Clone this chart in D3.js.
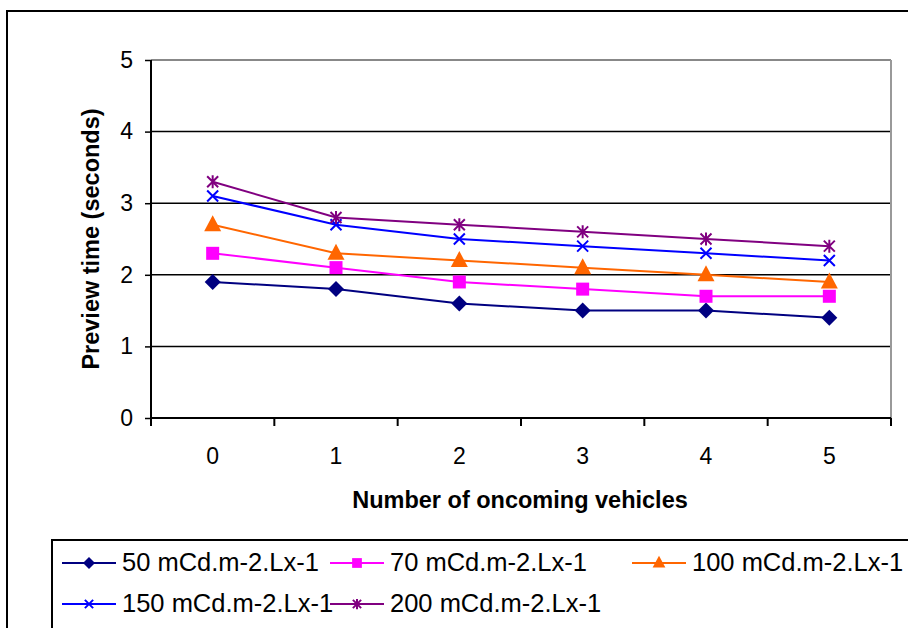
<!DOCTYPE html>
<html><head><meta charset="utf-8">
<script src="https://cdn.jsdelivr.net/npm/d3@7"></script>
<style>body{margin:0;background:#fff;}svg{display:block;font-family:"Liberation Sans",Arial,sans-serif;}</style>
</head><body>
<svg id="c" width="908" height="628"></svg>
<script>
const categories = ["0","1","2","3","4","5"];
const seriesNames = ["50 mCd.m-2.Lx-1","70 mCd.m-2.Lx-1","100 mCd.m-2.Lx-1","150 mCd.m-2.Lx-1","200 mCd.m-2.Lx-1"];
const s50  = [1.9, 1.8, 1.6, 1.5, 1.5, 1.4];
const s70  = [2.3, 2.1, 1.9, 1.8, 1.7, 1.7];
const s100 = [2.7, 2.3, 2.2, 2.1, 2.0, 1.9];
const s150 = [3.1, 2.7, 2.5, 2.4, 2.3, 2.2];
const s200 = [3.3, 2.8, 2.7, 2.6, 2.5, 2.4];
const yTicks = [0,1,2,3,4,5];
const seriesValues = [s50, s70, s100, s150, s200];
const colors = ["#000080","#FF00FF","#FF6600","#0000FF","#800080"];
const markers = ["diamond","square","triangle","x","star"];

const svg = d3.select("#c");
// outer chart border
svg.append("rect").attr("x",7).attr("y",11).attr("width",930).attr("height",640)
  .attr("fill","none").attr("stroke","#000").attr("stroke-width",2);

const L=151, R=891, T=60, B=418;
const x = d3.scaleBand().domain(categories).range([L,R]).padding(0);
const y = d3.scaleLinear().domain([0,5]).range([B,T]);

// gridlines
svg.append("g").selectAll("line").data(yTicks.filter(d=>d>0 && d<5)).join("line")
  .attr("x1",L).attr("x2",R).attr("y1",d=>y(d)).attr("y2",d=>y(d))
  .attr("stroke","#000").attr("stroke-width",1.5);
// plot border top/right gray
svg.append("line").attr("x1",L).attr("x2",R).attr("y1",y(5)).attr("y2",y(5)).attr("stroke","#888").attr("stroke-width",2);
svg.append("line").attr("x1",R).attr("x2",R).attr("y1",y(5)).attr("y2",B).attr("stroke","#999").attr("stroke-width",2);

// y axis
const yAxis = d3.axisLeft(y).tickValues(yTicks).tickSize(6).tickPadding(12).tickFormat(d3.format("d"));
const gy = svg.append("g").attr("transform",`translate(${L},0)`).call(yAxis);
gy.select(".domain").attr("stroke","#000").attr("stroke-width",2).attr("d",`M0,${B}V${T}`);
gy.selectAll(".tick line").attr("stroke","#000").attr("stroke-width",1.5);
gy.selectAll("text").attr("font-size",23).attr("fill","#000").attr("font-family","Liberation Sans, Arial, sans-serif");

// x axis
const xAxis = d3.axisBottom(x).tickSize(0).tickPadding(30);
const gx = svg.append("g").attr("transform",`translate(0,${B})`).call(xAxis);
gx.select(".domain").attr("stroke","#000").attr("stroke-width",2).attr("d",`M${L},0H${R}`);
gx.selectAll("text").attr("font-size",23).attr("fill","#000").attr("font-family","Liberation Sans, Arial, sans-serif");
// category boundary ticks
const bounds = categories.map(c=>x(c)).concat([x(categories[categories.length-1])+x.bandwidth()]);
gx.append("g").selectAll("line").data(bounds).join("line")
  .attr("x1",d=>d).attr("x2",d=>d).attr("y1",0).attr("y2",8).attr("stroke","#000").attr("stroke-width",2);

// axis titles
svg.append("text").attr("x",520).attr("y",508).attr("text-anchor","middle")
  .attr("font-size",23.5).attr("font-weight","bold").text("Number of oncoming vehicles");
svg.append("text").attr("transform",`translate(99,${(T+B)/2}) rotate(-90)`).attr("text-anchor","middle")
  .attr("font-size",23.5).attr("font-weight","bold").text("Preview time (seconds)");

function drawMarker(g, type, color, cx, cy, scale){
  const s = scale||1;
  if(type==="diamond"){
    const h=8*s;
    g.append("path").attr("d",`M${cx},${cy-h}L${cx+h},${cy}L${cx},${cy+h}L${cx-h},${cy}Z`).attr("fill",color);
  } else if(type==="square"){
    const h=6.5*s;
    g.append("rect").attr("x",cx-h).attr("y",cy-h).attr("width",2*h).attr("height",2*h).attr("fill",color);
  } else if(type==="triangle"){
    const h=8.5*s;
    g.append("path").attr("d",`M${cx},${cy-h-1}L${cx+h},${cy+h-2}L${cx-h},${cy+h-2}Z`).attr("fill",color);
  } else if(type==="x"){
    const h=5.5*s;
    g.append("path").attr("d",`M${cx-h},${cy-h}L${cx+h},${cy+h}M${cx-h},${cy+h}L${cx+h},${cy-h}`).attr("stroke",color).attr("stroke-width",2).attr("fill","none");
  } else if(type==="star"){
    const h=5.5*s;
    g.append("path").attr("d",`M${cx-h},${cy-h}L${cx+h},${cy+h}M${cx-h},${cy+h}L${cx+h},${cy-h}M${cx},${cy-h-1}L${cx},${cy+h+1}`).attr("stroke",color).attr("stroke-width",2).attr("fill","none");
  }
}

const line = d3.line().x((d,i)=>x(categories[i])+x.bandwidth()/2).y(d=>y(d));
seriesValues.forEach((vals,si)=>{
  const g = svg.append("g");
  g.append("path").datum(vals).attr("d",line).attr("fill","none").attr("stroke",colors[si]).attr("stroke-width",2);
  vals.forEach((v,i)=>drawMarker(g, markers[si], colors[si], x(categories[i])+x.bandwidth()/2, y(v), 1));
});

// legend
svg.append("rect").attr("x",52).attr("y",540).attr("width",900).attr("height",120)
  .attr("fill","#fff").attr("stroke","#000").attr("stroke-width",2);
const legendPos = [[62,563],[330,563],[632,563],[62,604],[330,604]];
seriesNames.forEach((name,i)=>{
  const [lx,ly] = legendPos[i];
  const g = svg.append("g");
  g.append("line").attr("x1",lx).attr("x2",lx+54).attr("y1",ly).attr("y2",ly).attr("stroke",colors[i]).attr("stroke-width",2);
  drawMarker(g, markers[i], colors[i], lx+27, ly, 0.75);
  g.append("text").attr("x",lx+60).attr("y",ly+8).attr("font-size",25.5).attr("fill","#000").text(name);
});
</script>
</body></html>
